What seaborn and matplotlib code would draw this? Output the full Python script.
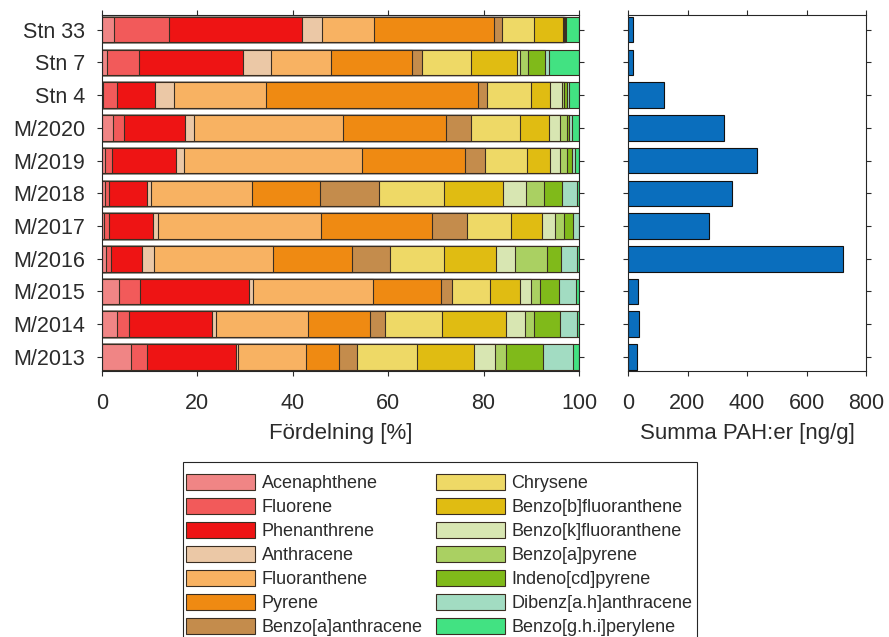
import matplotlib
matplotlib.use("Agg")
import matplotlib.pyplot as plt
from matplotlib.patches import Patch, Rectangle
import numpy as np
import pandas as pd
import seaborn as sns

# Stations, top to bottom
stations = ["Stn 33", "Stn 7", "Stn 4", "M/2020", "M/2019", "M/2018",
            "M/2017", "M/2016", "M/2015", "M/2014", "M/2013"]

compounds = ["Acenaphthene", "Fluorene", "Phenanthrene", "Anthracene",
             "Fluoranthene", "Pyrene", "Benzo[a]anthracene", "Chrysene",
             "Benzo[b]fluoranthene", "Benzo[k]fluoranthene", "Benzo[a]pyrene",
             "Indeno[cd]pyrene", "Dibenz[a.h]anthracene", "Benzo[g.h.i]perylene"]

# Share of each PAH (%) per station, same order as `stations`
acenaphthene = [2.5, 1.0, 0.3, 2.3, 0.7, 0.6, 0.5, 0.8, 3.5, 3.2, 6.0]
fluorene = [11.5, 6.7, 2.8, 2.3, 1.3, 0.9, 1.0, 1.1, 4.5, 2.5, 3.5]
phenanthrene = [28.0, 21.8, 8.1, 12.9, 13.5, 8.0, 9.1, 6.4, 22.8, 17.3, 18.5]
anthracene = [4.1, 6.0, 3.9, 1.7, 1.7, 0.8, 1.1, 2.6, 0.8, 0.9, 0.6]
fluoranthene = [10.9, 12.6, 19.3, 31.3, 37.3, 21.2, 34.2, 25.0, 25.2, 19.2, 14.2]
pyrene = [25.2, 16.8, 44.5, 21.7, 21.5, 14.1, 23.3, 16.6, 14.3, 13.1, 6.8]
benz_a_anthracene = [1.7, 2.1, 1.9, 5.2, 4.3, 12.4, 7.3, 7.8, 2.3, 3.2, 3.8]
chrysene = [6.6, 10.4, 9.1, 10.3, 8.9, 13.8, 9.3, 11.4, 8.0, 11.8, 12.6]
benzo_b_fluoranthene = [6.2, 9.7, 4.0, 6.1, 4.8, 12.2, 6.5, 10.9, 6.3, 13.5, 12.0]
benzo_k_fluoranthene = [0.1, 0.6, 2.5, 2.3, 2.1, 4.9, 2.7, 4.0, 2.3, 4.0, 4.4]
benzo_a_pyrene = [0.1, 1.7, 0.5, 1.3, 1.3, 3.8, 1.8, 6.6, 1.8, 1.9, 2.3]
indeno_cd_pyrene = [0.2, 3.5, 0.6, 0.6, 1.2, 3.7, 1.9, 3.1, 4.1, 5.5, 7.7]
dibenz_ah_anthracene = [0.1, 0.9, 0.5, 0.5, 0.5, 3.1, 1.3, 3.3, 3.4, 3.4, 6.3]
benzo_ghi_perylene = [2.8, 6.2, 2.0, 1.5, 0.9, 0.5, 0.0, 0.4, 0.7, 0.5, 1.3]

# Sum of PAHs (ng/g) per station
summa_pah = [18, 17, 120, 323, 433, 351, 273, 722, 34, 38, 29]

shares = [acenaphthene, fluorene, phenanthrene, anthracene, fluoranthene,
          pyrene, benz_a_anthracene, chrysene, benzo_b_fluoranthene,
          benzo_k_fluoranthene, benzo_a_pyrene, indeno_cd_pyrene,
          dibenz_ah_anthracene, benzo_ghi_perylene]

palette = ["#F08585", "#F25A5A", "#EE1414", "#EBC8A6", "#F8B262", "#EF8A12",
           "#C48C4C", "#EED966", "#E0BC12", "#D8E6B2", "#AAD062", "#80BA1A",
           "#A2DCC2", "#42E282"]

sns.set_style("ticks")
plt.rcParams["font.family"] = ["Liberation Sans", "DejaVu Sans"]
text_col = "#2b2b2b"
plt.rcParams.update({
    "text.color": text_col, "axes.labelcolor": text_col,
    "xtick.color": text_col, "ytick.color": text_col,
    "axes.edgecolor": "#262626", "axes.linewidth": 0.8,
})

rows = []
for comp, vals in zip(compounds, shares):
    for st, v in zip(stations, vals):
        rows.append({"station": st, "compound": comp, "share": v})
df = pd.DataFrame(rows)
df["compound"] = pd.Categorical(df["compound"], compounds, ordered=True)
df = df.sort_values(["station", "compound"])
df["cum"] = df.groupby("station", observed=True)["share"].cumsum()

W, H = 889, 637
fig = plt.figure(figsize=(W / 100, H / 100), dpi=100)
ax1 = fig.add_axes([102 / W, 1 - 371 / H, 477 / W, 356 / H])
ax2 = fig.add_axes([628 / W, 1 - 371 / H, 238 / W, 356 / H])

bar_w = 0.78
edge = "#3a2e22"
# stacked bars: draw cumulative totals from the outermost segment inward
for comp, col in reversed(list(zip(compounds, palette))):
    sub = df[df["compound"] == comp]
    sns.barplot(data=sub, x="cum", y="station", order=stations, color=col,
                saturation=1, width=bar_w, edgecolor=edge, linewidth=0.8,
                errorbar=None, ax=ax1)

ax1.set_xlim(0, 100)
ax1.set_ylim(len(stations) - 1 + 0.43, -0.45)
ax1.set_xticks([0, 20, 40, 60, 80, 100])
ax1.set_xlabel("Fördelning [%]", fontsize=16, labelpad=7)
ax1.set_ylabel("")

sns.barplot(x=summa_pah, y=stations, order=stations, color="#0A6EBD",
            saturation=1, width=bar_w, edgecolor="#111111", linewidth=0.8,
            errorbar=None, ax=ax2)
ax2.set_xlim(0, 800)
ax2.set_ylim(len(stations) - 1 + 0.43, -0.45)
ax2.set_xticks([0, 200, 400, 600, 800])
ax2.set_yticklabels([])
ax2.set_xlabel("Summa PAH:er [ng/g]", fontsize=16, labelpad=7)
ax2.set_ylabel("")

for ax in (ax1, ax2):
    for s in ax.spines.values():
        s.set_visible(True)
        s.set_zorder(5)
    ax.tick_params(direction="out", top=True, right=True, length=3.5,
                   width=0.8, labelsize=15.5, labeltop=False, labelright=False)
    ax.tick_params(axis="x", pad=12)
    ax.tick_params(axis="y", pad=8.5)

# legend frame runs past the bottom edge of the figure
fig.add_artist(Rectangle((183 / W, 1 - 660 / H), (697 - 183) / W, (660 - 462) / H,
                         transform=fig.transFigure, facecolor="white",
                         edgecolor="#262626", linewidth=0.8, zorder=1))
handles = [Patch(facecolor=c, edgecolor=edge, linewidth=0.8, label=n)
           for n, c in zip(compounds, palette)]
leg = fig.legend(handles=handles, ncol=2, loc="upper left",
                 bbox_to_anchor=(186 / W, 1 - 474 / H),
                 fontsize=13, frameon=False,
                 handlelength=3.8, handleheight=0.95,
                 handletextpad=0.38, labelspacing=0.335, columnspacing=0.75,
                 borderpad=0, borderaxespad=0)
leg.set_zorder(2)

fig.savefig("out.png", dpi=100)
